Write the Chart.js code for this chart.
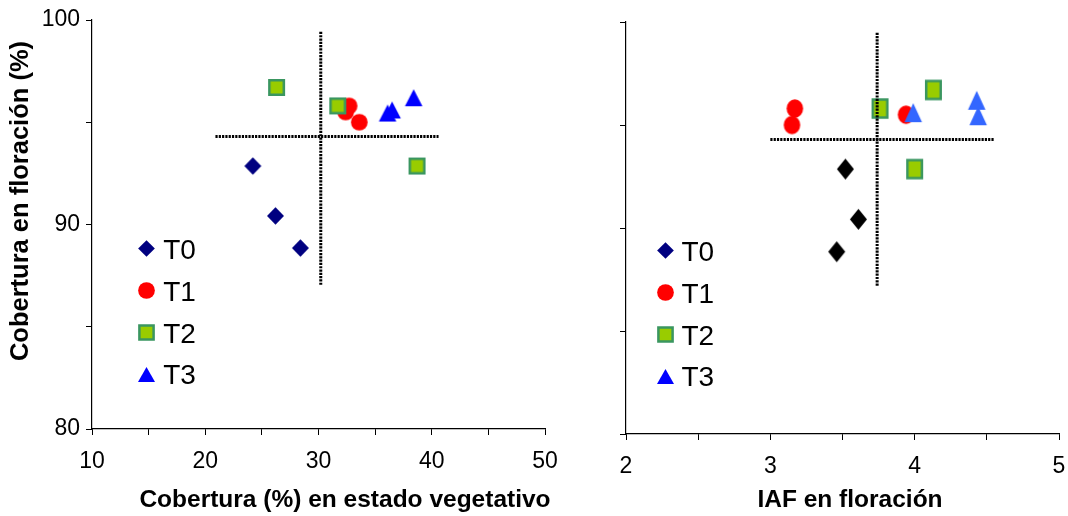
<!DOCTYPE html>
<html>
<head>
<meta charset="utf-8">
<script src="https://cdn.jsdelivr.net/npm/chart.js@4.4.1/dist/chart.umd.min.js"></script>
<style>
    body { margin: 0; background: #fff; }
    #wrap { position: relative; width: 1068px; height: 516px; }
    #chart-veg { position: absolute; left: 0; top: 0; }
    #chart-iaf { position: absolute; left: 560px; top: 0; }
</style>
</head>
<body>
<div id="wrap">
    <canvas id="chart-veg" width="560" height="516"></canvas>
    <canvas id="chart-iaf" width="508" height="516"></canvas>
</div>
<script>
// tratamientos
var tratamientos = ["T0", "T1", "T2", "T3"];

// cobertura en floracion (%), eje Y de los dos graficos
var floracionT0 = [92.86, 90.42, 88.85];
var floracionT1 = [95.8, 95.5, 95.0];
var floracionT2 = [96.7, 95.8, 92.86];
var floracionT3 = [95.45, 95.6, 96.2];

// cobertura (%) en estado vegetativo
var vegetT0 = [24.2, 26.2, 28.4];
var vegetT1 = [32.7, 32.4, 33.6];
var vegetT2 = [26.3, 31.7, 38.7];
var vegetT3 = [36.1, 36.5, 38.4];

// IAF en floracion
var iafT0 = [3.52, 3.61, 3.46];
var iafT1 = [3.17, 3.94, 3.15];
var iafT2 = [4.13, 3.76, 4.00];
var iafT3 = [4.44, 3.99, 4.43];

// lineas punteadas de referencia
var vegLineaH = [20.9, 40.6];   // desde / hasta en x
var vegLineaV = 30.2;
var vegRangoV = [87.05, 99.45];
var iafLineaH = [3.0, 4.55];
var iafLineaV = 3.74;
var iafRangoV = [87.2, 99.5];
var lineaHorizY = 94.3;

// ticks
var vegTicksX = [10, 20, 30, 40, 50];
var iafTicksX = [2, 3, 4, 5];
var ticksY = [80, 90, 100];

var fuente = "'Liberation Sans', Arial, sans-serif";
var colores = ['#000080', '#ff0000', '#99cc00', '#0000ff'];
var bordeCuadro = '#3a9660';

function marcador(forma, relleno, borde, anchoBorde, w, h) {
    var c = document.createElement('canvas');
    c.width = Math.ceil(w) + 4;
    c.height = Math.ceil(h) + 4;
    var ctx = c.getContext('2d');
    var cx = c.width / 2, cy = c.height / 2;
    ctx.fillStyle = relleno;
    ctx.strokeStyle = borde;
    ctx.lineWidth = anchoBorde;
    ctx.beginPath();
    if (forma === 'rombo') {
        ctx.moveTo(cx, cy - h / 2);
        ctx.lineTo(cx + w / 2, cy);
        ctx.lineTo(cx, cy + h / 2);
        ctx.lineTo(cx - w / 2, cy);
    } else if (forma === 'circulo') {
        ctx.ellipse(cx, cy, w / 2, h / 2, 0, 0, Math.PI * 2);
    } else if (forma === 'cuadro') {
        var b = anchoBorde / 2;
        ctx.rect(cx - w / 2 + b, cy - h / 2 + b, w - anchoBorde, h - anchoBorde);
    } else {
        ctx.moveTo(cx, cy - h / 2);
        ctx.lineTo(cx + w / 2, cy + h / 2);
        ctx.lineTo(cx - w / 2, cy + h / 2);
    }
    ctx.closePath();
    ctx.fill();
    if (anchoBorde) ctx.stroke();
    return c;
}

function puntos(xs, ys) {
    return xs.map(function (x, i) { return {x: x, y: ys[i]}; });
}

function lineaPunteada(datos) {
    return {
        type: 'line',
        data: datos,
        showLine: true,
        borderColor: '#000',
        borderWidth: 3,
        borderDash: [2.2, 1.1],
        borderCapStyle: 'butt',
        pointRadius: 0,
        fill: false,
        order: 0
    };
}

// leyenda dentro del area del grafico
function pluginLeyenda(dx, dy) {
    var simbolos = [
        marcador('rombo', colores[0], null, 0, 16.7, 16.7),
        marcador('circulo', colores[1], null, 0, 16.7, 16.7),
        marcador('cuadro', colores[2], bordeCuadro, 2.5, 16.7, 16.7),
        marcador('triangulo', colores[3], null, 0, 17, 15)
    ];
    return {
        id: 'leyenda',
        afterDraw: function (chart) {
            var ctx = chart.ctx;
            var a = chart.chartArea;
            ctx.save();
            ctx.font = '28px ' + fuente;
            ctx.fillStyle = '#000';
            ctx.textBaseline = 'middle';
            tratamientos.forEach(function (t, i) {
                var y = a.top + dy + i * 41.9;
                var s = simbolos[i];
                ctx.drawImage(s, Math.round(a.left + dx - s.width / 2), Math.round(y - s.height / 2));
                ctx.fillText(t, a.left + dx + 16.5, y + 2.5);
            });
            ctx.restore();
        }
    };
}

function pluginTitulos(tx, ty, textoX, ytx, yty, textoY) {
    return {
        id: 'titulos',
        afterDraw: function (chart) {
            var ctx = chart.ctx;
            ctx.save();
            ctx.font = 'bold 24.5px ' + fuente;
            ctx.fillStyle = '#000';
            ctx.textAlign = 'center';
            ctx.textBaseline = 'middle';
            ctx.fillText(textoX, tx, ty);
            if (textoY) {
                ctx.font = 'bold 25.5px ' + fuente;
                ctx.translate(ytx, yty);
                ctx.rotate(-Math.PI / 2);
                ctx.fillText(textoY, 0, 0);
            }
            ctx.restore();
        }
    };
}

function crearGrafico(id, cfg) {
    var ctx = document.getElementById(id).getContext('2d');
    var canvasH = 516;
    return new Chart(ctx, {
        type: 'scatter',
        data: {
            datasets: [
                {label: 'T0', data: puntos(cfg.x[0], floracionT0), pointStyle: cfg.marcas[0], order: 4},
                {label: 'T1', data: puntos(cfg.x[1], floracionT1), pointStyle: cfg.marcas[1], order: 3},
                {label: 'T2', data: puntos(cfg.x[2], floracionT2), pointStyle: cfg.marcas[2], order: 2},
                {label: 'T3', data: puntos(cfg.x[3], floracionT3), pointStyle: cfg.marcas[3], order: 1},
                lineaPunteada([{x: cfg.lineaH[0], y: lineaHorizY}, {x: cfg.lineaH[1], y: lineaHorizY}]),
                lineaPunteada([{x: cfg.lineaV, y: cfg.rangoV[0]}, {x: cfg.lineaV, y: cfg.rangoV[1]}])
            ]
        },
        options: {
            responsive: false,
            animation: false,
            events: [],
            layout: {padding: {left: 0, right: cfg.derecha, top: cfg.arriba, bottom: 0}},
            elements: {point: {radius: 8}},
            plugins: {legend: {display: false}, tooltip: {enabled: false}},
            scales: {
                x: {
                    type: 'linear',
                    min: cfg.ticksX[0],
                    max: cfg.ticksX[cfg.ticksX.length - 1],
                    ticks: {
                        stepSize: cfg.pasoX,
                        autoSkip: false,
                        maxRotation: 0,
                        padding: 13,
                        color: '#000',
                        font: {family: fuente, size: 23},
                        callback: function (v) { return cfg.ticksX.indexOf(v) >= 0 ? v : ''; }
                    },
                    grid: {drawOnChartArea: false, drawTicks: true, tickLength: 6, tickColor: '#000', color: '#000'},
                    border: {color: '#000', width: 1.2},
                    afterFit: function (s) {
                        s.height = canvasH - cfg.abajo;
                        s.paddingLeft = 0;
                        s.paddingRight = 0;
                    }
                },
                y: {
                    type: 'linear',
                    min: 80,
                    max: 100,
                    ticks: {
                        stepSize: 5,
                        autoSkip: false,
                        padding: 6,
                        color: '#000',
                        font: {family: fuente, size: 23},
                        callback: function (v) { return cfg.etiquetasY && ticksY.indexOf(v) >= 0 ? v : ''; }
                    },
                    grid: {drawOnChartArea: false, drawTicks: true, tickLength: 6, tickColor: '#000', color: '#000'},
                    border: {color: '#000', width: 1.2},
                    afterFit: function (s) {
                        s.width = cfg.izquierda;
                        s.paddingTop = 0;
                        s.paddingBottom = 0;
                    }
                }
            }
        },
        plugins: [pluginLeyenda(cfg.leyendaX, 228.5), cfg.titulos]
    });
}

var chartVeg = crearGrafico('chart-veg', {
    x: [vegetT0, vegetT1, vegetT2, vegetT3],
    marcas: [
        marcador('rombo', colores[0], null, 0, 17, 17.5),
        marcador('circulo', colores[1], null, 0, 16.7, 16.7),
        marcador('cuadro', colores[2], bordeCuadro, 2.5, 17, 17),
        marcador('triangulo', colores[3], null, 0, 17.5, 17)
    ],
    lineaH: vegLineaH, lineaV: vegLineaV, rangoV: vegRangoV,
    ticksX: vegTicksX, pasoX: 5,
    etiquetasY: true,
    izquierda: 92, derecha: 15, arriba: 20, abajo: 429,
    leyendaX: 54.7,
    titulos: pluginTitulos(345, 500, 'Cobertura (%) en estado vegetativo', 21, 201, 'Cobertura en floración (%)')
});

var chartIaf = crearGrafico('chart-iaf', {
    x: [iafT0, iafT1, iafT2, iafT3],
    marcas: [
        marcador('rombo', '#000000', null, 0, 17, 21),
        marcador('circulo', colores[1], null, 0, 16.5, 18.5),
        marcador('cuadro', colores[2], bordeCuadro, 2.5, 17, 20.5),
        marcador('triangulo', '#3366ff', null, 0, 17.5, 19)
    ],
    lineaH: iafLineaH, lineaV: iafLineaV, rangoV: iafRangoV,
    ticksX: iafTicksX, pasoX: 0.5,
    etiquetasY: false,
    izquierda: 66, derecha: 8, arriba: 22, abajo: 434,
    leyendaX: 39,
    titulos: pluginTitulos(290, 500, 'IAF en floración', 0, 0, null)
});
</script>
</body>
</html>
